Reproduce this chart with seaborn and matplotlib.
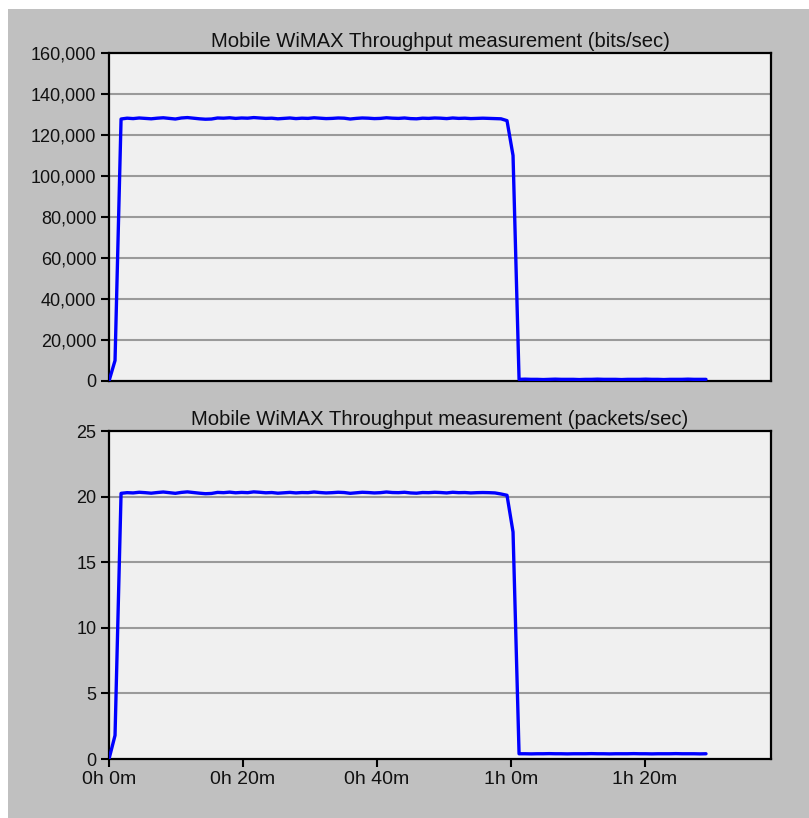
import numpy as np
import pandas as pd
import matplotlib
matplotlib.use("Agg")
import matplotlib.pyplot as plt
import seaborn as sns
from matplotlib.patches import Rectangle
from matplotlib.ticker import FuncFormatter

sns.set_theme(style="white")
plt.rcParams['font.family'] = ['Liberation Sans', 'DejaVu Sans']

# ---- data ----
sample_interval_min = 0.9

bits_values = (
    [0, 10000, 127800]
    + [128200, 128000, 128300, 128100, 127900, 128200, 128400, 128100, 127800, 128300,
       128500, 128200, 127900, 127700, 127800, 128300, 128200, 128400, 128100, 128300,
       128200, 128500, 128300, 128100, 128200, 127900, 128100, 128300, 128000, 128200,
       128100, 128400, 128200, 128000, 128100, 128300, 128200, 127800, 128100, 128300,
       128200, 128000, 128100, 128400, 128200, 128100, 128300, 128000, 127900, 128200,
       128100, 128300, 128200, 128000, 128300, 128100, 128200, 128000, 128100, 128200,
       128100, 128000, 127900]
    + [127000, 110000]
    + [800, 900, 800, 800, 700, 800, 900, 800, 800, 800, 700, 800, 800, 900, 800, 800,
       800, 700, 800, 800, 800, 900, 800, 800, 700, 800, 800, 800, 900, 800, 800, 800]
)

packets_values = (
    [0, 1.8, 20.25]
    + [20.30, 20.28, 20.33, 20.30, 20.26, 20.31, 20.35, 20.30, 20.25, 20.32,
       20.36, 20.31, 20.26, 20.22, 20.24, 20.32, 20.30, 20.34, 20.29, 20.32,
       20.30, 20.36, 20.33, 20.29, 20.31, 20.26, 20.29, 20.32, 20.28, 20.31,
       20.30, 20.35, 20.31, 20.28, 20.30, 20.33, 20.31, 20.25, 20.29, 20.33,
       20.31, 20.28, 20.30, 20.35, 20.31, 20.30, 20.33, 20.28, 20.26, 20.31,
       20.30, 20.33, 20.31, 20.28, 20.33, 20.30, 20.31, 20.28, 20.30, 20.31,
       20.30, 20.28, 20.20]
    + [20.1, 17.3]
    + [0.40, 0.40, 0.39, 0.40, 0.40, 0.41, 0.40, 0.40, 0.39, 0.40, 0.40, 0.40, 0.41, 0.40,
       0.40, 0.39, 0.40, 0.40, 0.40, 0.41, 0.40, 0.40, 0.39, 0.40, 0.40, 0.40, 0.41, 0.40,
       0.40, 0.40, 0.39, 0.40]
)

titles = ["Mobile WiMAX Throughput measurement (bits/sec)",
          "Mobile WiMAX Throughput measurement (packets/sec)"]
bits_yticks = [0, 20000, 40000, 60000, 80000, 100000, 120000, 140000, 160000]
packets_yticks = [0, 5, 10, 15, 20, 25]
x_ticks_min = [0, 20, 40, 60, 80]
x_tick_labels = ["0h 0m", "0h 20m", "0h 40m", "1h 0m", "1h 20m"]

df_bits = pd.DataFrame({"t": np.arange(len(bits_values)) * sample_interval_min,
                        "v": bits_values})
df_pk = pd.DataFrame({"t": np.arange(len(packets_values)) * sample_interval_min,
                      "v": packets_values})

# ---- figure ----
W, H = 809, 818
fig = plt.figure(figsize=(W / 100, H / 100), dpi=100, facecolor="white")
fig.patches.append(Rectangle((8 / W, 0), 1 - 8 / W, 1 - 9 / H, transform=fig.transFigure,
                             facecolor="#c0c0c0", edgecolor="none", zorder=-10))

ax1 = fig.add_axes([109 / W, 1 - 381 / H, (771 - 109) / W, (381 - 53) / H])
ax2 = fig.add_axes([109 / W, 1 - 759 / H, (771 - 109) / W, (759 - 431) / H])

FS = 13
for ax, df, yt, title in [(ax1, df_bits, bits_yticks, titles[0]),
                          (ax2, df_pk, packets_yticks, titles[1])]:
    ax.set_facecolor("#f0f0f0")
    sns.lineplot(data=df, x="t", y="v", ax=ax, color="#0000ff", linewidth=2.4, zorder=3)
    ax.set_xlim(0, 98.8)
    ax.set_ylim(yt[0], yt[-1])
    ax.set_yticks(yt)
    ax.set_xticks(x_ticks_min)
    for y in yt[1:-1]:
        ax.axhline(y, color="#9a9a9a", linewidth=1.5, zorder=1)
    for s in ax.spines.values():
        s.set_color("black")
        s.set_linewidth(1.6)
    ax.set_xlabel("")
    ax.set_ylabel("")
    ax.set_title(title, fontsize=14.6, color="#111111", pad=4)
    ax.tick_params(axis="y", direction="out", length=6, width=1.5, colors="black",
                   labelsize=FS, pad=3, left=True)
    ax.tick_params(axis="y", labelcolor="#111111")

ax1.yaxis.set_major_formatter(FuncFormatter(lambda v, p: f"{int(v):,}"))
ax1.tick_params(axis="x", bottom=False, labelbottom=False)
ax2.set_xticklabels(x_tick_labels)
ax2.tick_params(axis="x", direction="out", length=6, width=1.5, colors="black",
                labelsize=14, pad=3, bottom=True, labelcolor="#111111")

fig.savefig("out.png", dpi=100, facecolor="white")
